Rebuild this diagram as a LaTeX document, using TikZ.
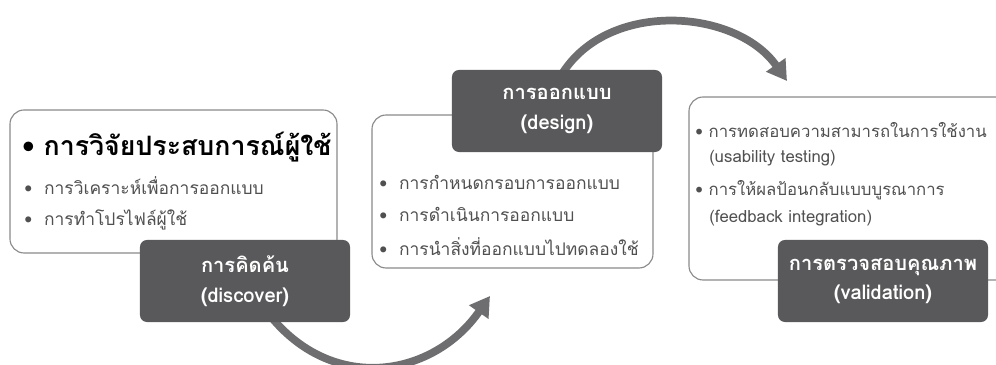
\documentclass[tikz,border=0pt]{standalone}
\usepackage{fontspec}
\setmainfont{Liberation Sans}
\newfontfamily\thaifont[Script=Thai]{Loma}
\usetikzlibrary{arrows.meta, calc}

\definecolor{boxdark}{HTML}{59595B}
\definecolor{arrowgray}{HTML}{6E6E70}
\definecolor{framegray}{HTML}{8A8A8A}
\definecolor{itemgray}{HTML}{505050}

\tikzset{
	plainbox/.style={draw=framegray, line width=0.8pt, fill=white, rounded corners=10pt},
	darkbox/.style={fill=boxdark, rounded corners=5pt, text=white, align=center,
		minimum width=5.25cm, minimum height=2.05cm, font=\thaifont\bfseries\fontsize{14.3}{21}\selectfont},
	itemtext/.style={anchor=west, text=itemgray, inner sep=0pt, font=\thaifont\fontsize{12.4}{14}\selectfont},
	smallitem/.style={itemtext, font=\thaifont\fontsize{11.9}{14}\selectfont},
	flowarrow/.style={-{Triangle[length=14pt,width=16pt]}, line width=5.5pt, draw=arrowgray},
}

\begin{document}
\begin{tikzpicture}[x=0.025cm, y=0.025cm]
	\useasboundingbox (0,0) rectangle (996,-365);
	\clip (0,0) rectangle (996,-365);
	
	% Arrows (behind the boxes)
	\coordinate (a1start) at (272,-318);
	\coordinate (a1end) at (490,-296);
	\coordinate (a2start) at (562,-74);
	\coordinate (a2end) at (787,-81);
	\draw[flowarrow] (a1start) to[out=-50, in=235, looseness=1.15] (a1end);
	\draw[flowarrow] (a2start) to[out=58, in=125] (a2end);
	
	% Discover
	\draw[plainbox] (10,-110) rectangle (337,-253);
	\node[itemtext, text=black, font=\thaifont\bfseries\fontsize{19}{21}\selectfont] (h1) at (22,-147) {• การวิจัยประสบการณ์ผู้ใช้};
	\node[itemtext] (d1) at (24,-186) {• \ การวิเคราะห์เพื่อการออกแบบ};
	\node[itemtext] (d2) at (24,-220) {• \ การทำโปรไฟล์ผู้ใช้};
	\node[darkbox] (discover) at (245,-281) {การคิดค้น\\(discover)};
	
	% Design
	\draw[plainbox] (372,-115) rectangle (653,-268);
	\node[darkbox] (design) at (557,-111) {การออกแบบ\\(design)};
	\node[itemtext] (s1) at (379,-182) {• \ การกำหนดกรอบการออกแบบ};
	\node[itemtext] (s2) at (379,-214) {• \ การดำเนินการออกแบบ};
	\node[itemtext] (s3) at (379,-247) {• \ การนำสิ่งที่ออกแบบไปทดลองใช้};
	
	% Validation
	\draw[plainbox] (689,-97) rectangle (1010,-280);
	\node[smallitem] (v1) at (695,-130) {• การทดสอบความสามารถในการใช้งาน};
	\node[smallitem] (v2) at (709,-158) {(usability testing)};
	\node[smallitem] (v3) at (695,-190) {• การให้ผลป้อนกลับแบบบูรณาการ};
	\node[smallitem] (v4) at (709,-218) {(feedback integration)};
	\node[darkbox] (validation) at (883,-281) {การตรวจสอบคุณภาพ\\(validation)};
\end{tikzpicture}
\end{document}
